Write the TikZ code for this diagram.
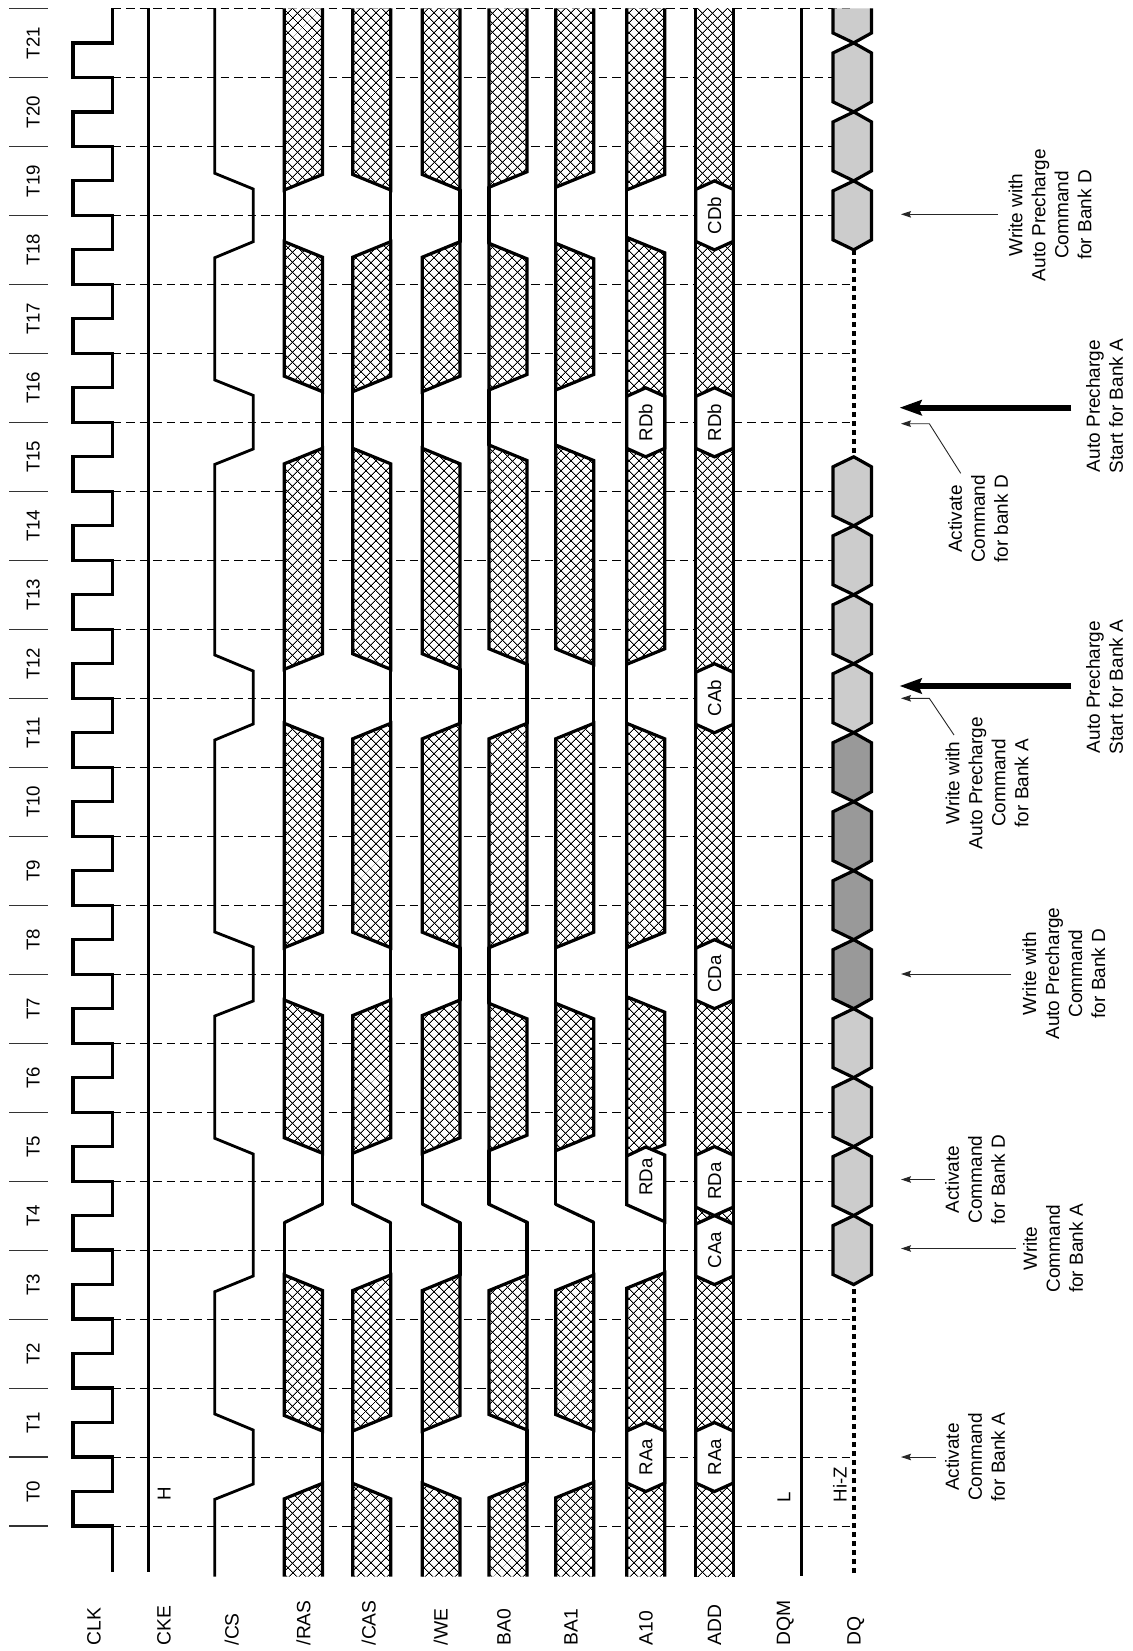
\documentclass[tikz,border=0pt]{standalone}
\usepackage{fontspec}
\setmainfont{Liberation Sans}
\usetikzlibrary{arrows.meta,patterns.meta}
\tikzset{
  sigline/.style={line width=3.2pt,line cap=round,line join=miter},
  hatched/.style={
    preaction={fill=white},
    preaction={pattern={Lines[angle=45,distance=6.9pt,line width=.9pt]}},
    preaction={pattern={Lines[angle=-45,distance=6.9pt,line width=.9pt]}}},
  gridline/.style={line width=1pt,dash pattern=on 8.5pt off 5pt},
  tickline/.style={line width=1.1pt,black!80},
  hexbox/.style={sigline,fill=white},
  dqhex/.style={sigline,fill=#1},
  txt/.style={rotate=90,inner sep=0pt,text height=13.4pt,text depth=0pt,text=black},
  siglabel/.style={txt,anchor=west,font=\fontsize{19.3}{23}\selectfont},
  block/.style={rotate=90,inner xsep=0pt,inner ysep=#1,align=center,text=black,font=\fontsize{19}{23}\selectfont},
  thinarrow/.style={line width=.9pt,black!85,-{Stealth[length=10pt,width=6.5pt,inset=1.5pt]}},
  thickarrow/.style={line width=6pt,-{Stealth[length=22pt,width=15pt,inset=3pt]}}
}
% hatched piece between a lower and an upper window
\newcommand\hatchseg[6]{%
  \pgfmathsetmacro\la{#3==0 ? #4 : #4-15.5}%
  \pgfmathsetmacro\ra{#3==1 ? #4 : #4-15.5}%
  \pgfmathsetmacro\lb{#5==0 ? #6 : #6+15.5}%
  \pgfmathsetmacro\rb{#5==1 ? #6 : #6+15.5}%
  \draw[sigline,hatched] (#1,\la)--(#1,\lb)--(#2,\rb)--(#2,\ra)--cycle;}
\newcommand\hatchbot[4]{%
  \pgfmathsetmacro\lb{#3==0 ? #4 : #4+15.5}%
  \pgfmathsetmacro\rb{#3==1 ? #4 : #4+15.5}%
  \draw[sigline,line cap=butt,hatched] (#1,1576.7)--(#1,\lb)--(#2,\rb)--(#2,1576.7);}
\newcommand\hatchtop[4]{%
  \pgfmathsetmacro\la{#3==0 ? #4 : #4-15.5}%
  \pgfmathsetmacro\ra{#3==1 ? #4 : #4-15.5}%
  \draw[sigline,line cap=butt,hatched] (#1,8.5)--(#1,\la)--(#2,\ra)--(#2,8.5);}
% a whole bus: kind/side/near y below/near y above
% kind 0 first window, 1 hatched before, 2 direct change before, 3 end
\newcommand\busrow[3]{%
  \foreach \wK/\wS/\wB/\wT [remember=\wS as \prevS (initially 0),remember=\wT as \prevT (initially 0)] in {#3}{%
    \ifnum\wS=0 \def\xn{#1}\else\def\xn{#2}\fi
    \ifnum\prevS=0 \def\xp{#1}\else\def\xp{#2}\fi
    \ifcase\wK
      \hatchbot{#1}{#2}{\wS}{\wB}%
    \or
      \hatchseg{#1}{#2}{\prevS}{\prevT}{\wS}{\wB}%
    \or
      \draw[sigline] (\xp,\prevT)--(\xn,\wB);%
    \or
      \hatchtop{#1}{#2}{\prevS}{\prevT}%
    \fi
    \ifnum\wK<3 \draw[sigline] (\xn,\wB)--(\xn,\wT);\fi
  }}
% white hexagon with a label on the A10 or ADD bus
\newcommand\bushex[5]{% name, xl, xr, k of lower point, text
  \pgfmathsetmacro\ya{1526-68.98*(#4)}%
  \pgfmathsetmacro\yb{\ya-68.98}%
  \pgfmathsetmacro\xm{(#2+#3)/2}%
  \draw[hexbox] (\xm,\ya)--(#3,\ya-8.5)--(#3,\yb+8.5)--(\xm,\yb)--(#2,\yb+8.5)--(#2,\ya-8.5)--cycle;
  \node[txt] (#1) at (\xm,\ya-34.5) {#5};}
\newcommand\dqcell[2]{% k of lower point, colour
  \pgfmathsetmacro\ya{1526-68.98*(#1)}%
  \pgfmathsetmacro\yb{\ya-68.98}%
  \draw[dqhex=#2] (853.7,\ya)--(871.5,\ya-10)--(871.5,\yb+10)--(853.7,\yb)--(833,\yb+10)--(833,\ya-10)--cycle;}
\definecolor{dqlight}{gray}{0.8}
\definecolor{dqdark}{gray}{0.6}
\begin{document}
\begin{tikzpicture}[x=1pt,y=-1pt,font=\fontsize{18.7}{23}\selectfont]
\useasboundingbox (0,0) rectangle (1132,1651);
\fill[white] (0,0) rectangle (1132,1651);
% grid
\foreach \k in {0,...,22}{
  \pgfmathsetmacro\yy{1526-68.98*\k}
  \draw[gridline] (112.5,\yy)--(853.7,\yy);
  \draw[tickline] (9,\yy)--(47.5,\yy);
}
\foreach \k in {0,...,21}{
  \pgfmathsetmacro\yy{1526-68.98*(\k+0.5)}
  \node[txt] (tlabel\k) at (33,\yy) {T\k};
}
% CLK
\draw[sigline,line cap=butt] (112.5,1571.7)--(112.5,1526)
  \foreach \k in {0,...,21}{
    -- ++(-39.5,0) -- ++(0,-34.49) -- ++(39.5,0) -- ++(0,-34.49)
  };
% CKE
\draw[sigline,line cap=butt] (148.7,1571.7)--(148.7,8.5);
\node[txt] (hlabel) at (164,1494) {H};
% /CS
\draw[line width=2.8pt,line cap=butt] (214.8,1576.7)
  --(214.8,1499.3)--(253.2,1484)--(253.2,1430)--(214.8,1414)
  --(214.8,1291.7)--(253.2,1276)--(253.2,1154)--(214.8,1138.3)
  --(214.8,1016)--(253.2,1001)--(253.2,947)--(214.8,932)
  --(214.8,740)--(253.2,724)--(253.2,671)--(214.8,655)
  --(214.8,464.4)--(253.2,449)--(253.2,395.4)--(214.8,380)
  --(214.8,257.7)--(253.2,241.7)--(253.2,189)--(214.8,173.3)
  --(214.8,8.5);
% /RAS
\busrow{284.3}{322.5}{0/1/1483.3/1431,1/0/1275/1222.7,2/1/1204/1153.3,1/0/1000/947.7,1/0/723.3/669.3,1/1/448.3/391.7,1/0/241.7/190,3/0/0/0}
% /CAS
\busrow{352.7}{390.7}{0/0/1483.3/1431,1/1/1275/1222.7,2/0/1204/1153.3,1/1/1000/947.7,1/1/723.3/669.3,1/0/448.3/391.7,1/1/241.7/190,3/0/0/0}
% /WE
\busrow{422.3}{460}{0/0/1483.3/1431,1/1/1275/1222.7,2/0/1204/1153.3,1/1/1000/947.7,1/1/723.3/669.3,1/0/448.3/391.7,1/1/241.7/190,3/0/0/0}
% BA0
\busrow{489}{527}{0/1/1482.3/1430,1/1/1275/1222.3,2/0/1204.3/1150.7,1/0/1003.3/947.7,1/1/723.3/664.3,1/0/445/390,1/0/243.3/187.3,3/0/0/0}
% BA1
\busrow{555.7}{593.7}{0/1/1482.3/1430,1/1/1275/1222.3,2/0/1204.3/1150.7,1/0/1003.3/947.7,1/1/723.3/664.3,1/0/445/390,1/0/243.3/187.3,3/0/0/0}
% A10
\hatchbot{626.7}{664.7}{1}{1272.7}
\draw[sigline] (664.7,1272.7)--(664.7,1221.7);
\hatchseg{626.7}{664.7}{0}{1160}{0}{996.7}
\draw[sigline] (626.7,996.7)--(626.7,947.7);
\hatchseg{626.7}{664.7}{0}{947.7}{0}{723.3}
\draw[sigline] (626.7,723.3)--(626.7,664.3);
\hatchseg{626.7}{664.7}{0}{664.3}{0}{237.3}
\draw[sigline] (626.7,237.3)--(626.7,190);
\hatchtop{626.7}{664.7}{0}{190}
\bushex{aRAa}{626.7}{664.7}{0.5}{RAa}
\draw[hexbox] (664.7,1221.7)--(626.7,1204.7)--(626.7,1156)--(645.7,1147)--(664.7,1155)--cycle;
\node[txt] (aRDa) at (645.7,1177) {RDa};
\bushex{aRDb}{626.7}{664.7}{15.5}{RDb}
% ADD
\path[hatched] (695.7,1576.7) rectangle (733.3,8.5);
\draw[sigline,line cap=butt] (695.7,1576.7)--(695.7,8.5);
\draw[sigline,line cap=butt] (733.3,1576.7)--(733.3,8.5);
\bushex{dRAa}{695.7}{733.3}{0.5}{RAa}
\bushex{dCAa}{695.7}{733.3}{3.5}{CAa}
\bushex{dRDa}{695.7}{733.3}{4.5}{RDa}
\bushex{dCDa}{695.7}{733.3}{7.5}{CDa}
\bushex{dCAb}{695.7}{733.3}{11.5}{CAb}
\bushex{dRDb}{695.7}{733.3}{15.5}{RDb}
\bushex{dCDb}{695.7}{733.3}{18.5}{CDb}
% DQM
\draw[sigline,line cap=butt] (801.6,1575.7)--(801.6,8.5);
\node[txt] (llabel) at (783.7,1497.5) {L};
% DQ
\draw[line width=3.6pt,dash pattern=on 5pt off 4pt] (853.7,1573)--(853.7,1284);
\draw[line width=3.6pt,dash pattern=on 5pt off 4pt] (853.7,250)--(853.7,455);
\foreach \k in {3.5,4.5,5.5,6.5,11.5,12.5,13.5,14.5,18.5,19.5,20.5}{\dqcell{\k}{dqlight}}
\foreach \k in {7.5,8.5,9.5,10.5}{\dqcell{\k}{dqdark}}
\draw[sigline,line cap=butt,fill=dqlight] (871.5,8.5)--(871.5,33)--(853.7,42.9)--(833,33)--(833,8.5);
\node[txt] (hizlabel) at (840,1484.5) {Hi-Z};
% signal names
\foreach \nm/\xx/\tx in {clk/94/CLK,cke/164/CKE,cs/232/{/CS},ras/303.6/{/RAS},cas/369/{/CAS},we/441/{/WE},bazero/504/BA0,baone/571/BA1,aten/645.8/A10,add/714.4/ADD,dqm/783.4/DQM,dq/853.8/DQ}
  \node[siglabel] (name\nm) at (\xx,1645.5) {\tx};
% annotations
\node[block=9.2pt] (n1) at (975,1457) {Activate\\Command\\for Bank A};
\node[block=10pt] (n2) at (975,1179.5) {Activate\\Command\\for Bank D};
\node[block=7.2pt] (n3) at (1053,1248.5) {Write\\Command\\for Bank A};
\node[block=11pt] (n4) at (1063.7,973.5) {Write with\\Auto Precharge\\Command\\for Bank D};
\node[block=3pt] (n5) at (987,783) {Write with\\Auto Precharge\\Command\\for Bank A};
\node[block=14.4pt] (n6) at (1104.5,687) {Auto Precharge\\Start for Bank A};
\node[block=14.4pt] (n7) at (1104.5,406) {Auto Precharge\\Start for Bank A};
\node[block=3pt] (n8) at (978,519) {Activate\\Command\\for bank D};
\node[block=10.7pt] (n9) at (1050,215) {Write with\\Auto Precharge\\Command\\for Bank D};
\coordinate (t1) at (901,1457);
\coordinate (t2) at (901,1179.5);
\coordinate (t3) at (901,1248.5);
\coordinate (t4) at (901,974);
\coordinate (t5) at (901,698.3);
\coordinate (e5) at (929.3,698.3);
\coordinate (s5) at (954,735);
\coordinate (t6) at (899.5,686);
\coordinate (t7) at (899.5,407.7);
\coordinate (t8) at (901,423.7);
\coordinate (e8) at (929.3,423.7);
\coordinate (s8) at (960.7,473.3);
\coordinate (t9) at (901,214.3);
\draw[thinarrow] (n1.north |- t1)--(t1);
\draw[thinarrow] (n2.north |- t2)--(t2);
\draw[thinarrow] (n3.north |- t3)--(t3);
\draw[thinarrow] (n4.north |- t4)--(t4);
\draw[thinarrow] (s5)--(e5)--(t5);
\draw[thickarrow] (n6.north |- t6)--(t6);
\draw[thickarrow] (n7.north |- t7)--(t7);
\draw[thinarrow] (s8)--(e8)--(t8);
\draw[thinarrow] (n9.north |- t9)--(t9);
\end{tikzpicture}
\end{document}
